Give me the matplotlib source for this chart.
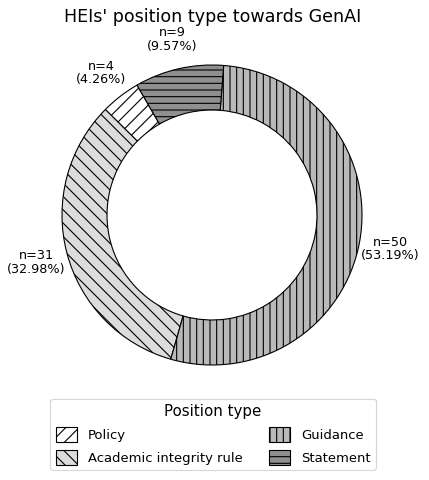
import numpy as np
import matplotlib
matplotlib.use('Agg')
import matplotlib.pyplot as plt

# position types of HEIs towards GenAI

labels = ['Policy', 'Academic integrity rule', 'Guidance', 'Statement']
counts = [4, 31, 50, 9]
colors = ['white', '#dcdcdc', '#b9b9b9', '#8f8f8f']
hatches = ['//', '\\\\', '||', '--']

total = sum(counts)


def fmt(pct):
    n = int(round(pct * total / 100.0))
    return 'n={}\n({:.2f}%)'.format(n, pct)


fig = plt.figure(figsize=(429 / 80, 480 / 80), dpi=80)
ax = fig.add_axes([24.5 / 429, 77.5 / 480, 375 / 429, 375 / 480])

wedges, texts, autotexts = ax.pie(counts, colors=colors, startangle=120,
                                  autopct=fmt, pctdistance=1.21,
                                  wedgeprops=dict(width=0.3, edgecolor='black', linewidth=1),
                                  textprops=dict(fontsize=11.5, linespacing=1.05,
                                                 va='center_baseline'))
for w, h in zip(wedges, hatches):
    w.set_hatch(h)

fig.text(213 / 429, 1 - 22 / 480, "HEIs' position type towards GenAI",
         ha='center', va='baseline', fontsize=15.8)

fig.legend(wedges, labels, title='Position type', ncol=2,
           loc='upper center', bbox_to_anchor=(213 / 429, 1 - 392 / 480),
           fontsize=11.8, title_fontsize=13.5, handlelength=1.65, handleheight=1.4,
           labelspacing=0.6)

plt.savefig('out.png', dpi=80)
